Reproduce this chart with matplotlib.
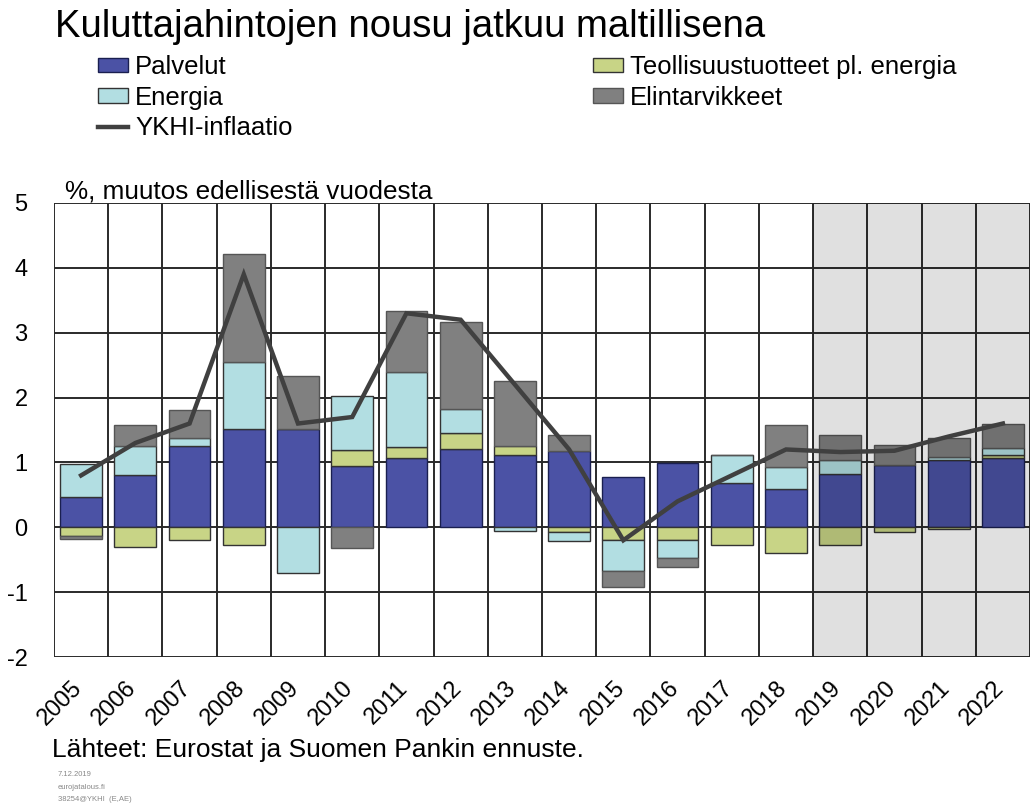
#!/usr/bin/env python3

import matplotlib
matplotlib.use('Agg')
import matplotlib.pyplot as plt
import matplotlib.transforms as mtransforms
import numpy as np

#-----------
# DATA
#-----------
years = [str(y) for y in range(2005, 2023)]
palvelut = [0.47, 0.81, 1.25, 1.52, 1.52, 0.94, 1.07, 1.20, 1.12, 1.17, 0.77, 0.99, 0.69, 0.59, 0.82, 0.96, 1.03, 1.07]
teollisuus = [-0.13, -0.30, -0.19, -0.28, 0.0, 0.25, 0.17, 0.26, 0.14, -0.07, -0.20, -0.20, -0.28, -0.39, -0.28, -0.07, -0.02, 0.05]
energia = [0.51, 0.45, 0.13, 1.03, -0.71, 0.83, 1.15, 0.36, -0.05, -0.14, -0.47, -0.28, 0.42, 0.34, 0.21, 0.0, 0.05, 0.10]
elintarvikkeet = [-0.05, 0.32, 0.43, 1.66, 0.82, -0.32, 0.94, 1.34, 1.00, 0.26, -0.25, -0.14, 0.0, 0.64, 0.39, 0.31, 0.30, 0.38]
ykhi = [0.8, 1.3, 1.6, 3.9, 1.6, 1.7, 3.3, 3.2, 2.2, 1.2, -0.2, 0.4, 0.8, 1.2, 1.16, 1.18, 1.4, 1.6]
forecast_start = '2019'

#-----------
# STYLE
#-----------
plt.rcParams['font.family'] = ['Liberation Sans', 'DejaVu Sans']
plt.rcParams['axes.unicode_minus'] = False

series = [
  ('Palvelut', palvelut, '#4b52a5', '#1a1f50'),
  ('Teollisuustuotteet pl. energia', teollisuus, '#c8d486', '#333333'),
  ('Energia', energia, '#b2dee2', '#333333'),
  ('Elintarvikkeet', elintarvikkeet, '#808080', '#555555'),
]

#-----------
# PLOT
#-----------
fig = plt.figure(figsize=(10.3, 8.08), dpi=100)
ax = fig.add_axes([54 / 1030, 1 - 657 / 808, 1 - 54 / 1030, (657 - 203) / 808])

x = np.arange(len(years))
pos_bottom = np.zeros(len(years))
neg_bottom = np.zeros(len(years))
handles = {}
for name, vals, color, edge in series:
  vals = np.array(vals)
  bottom = np.where(vals >= 0, pos_bottom, neg_bottom)
  bars = ax.bar(x, vals, width=0.77, bottom=bottom, color=color, edgecolor=edge, linewidth=1, zorder=2)
  handles[name] = bars
  pos_bottom += np.where(vals >= 0, vals, 0)
  neg_bottom += np.where(vals < 0, vals, 0)

line, = ax.plot(x, ykhi, color='#404040', linewidth=3.2, zorder=4, solid_joinstyle='miter')

# forecast shading over the bars
fs = years.index(forecast_start) - 0.5
ax.axvspan(fs, len(years) - 0.5, color='black', alpha=0.12, linewidth=0, zorder=3)

ax.set_xlim(-0.5, len(years) - 0.5)
ax.set_ylim(-2, 5)
ax.set_yticks(range(-2, 6))
ax.set_xticks(x)
ax.set_xticklabels(years, rotation=45, ha='right', va='center', rotation_mode='anchor', fontsize=17)
ax.tick_params(axis='y', length=0, pad=19, labelsize=17)
ax.tick_params(axis='x', length=0, pad=20)

# grid: horizontal at each integer, vertical between categories
for yv in range(-2, 6):
  ax.axhline(yv, color='#2a2a2a', linewidth=1.4, zorder=1)
for xv in np.arange(-0.5, len(years), 1.0):
  ax.axvline(xv, color='#2a2a2a', linewidth=1.4, zorder=1)
for s in ax.spines.values():
  s.set_visible(False)

# nudge x labels so they end just right of the bar centre
offset = mtransforms.ScaledTranslation(-2 / 100, 0, fig.dpi_scale_trans)
for lbl in ax.get_xticklabels():
  lbl.set_transform(lbl.get_transform() + offset)

#-----------
# TEXTS
#-----------
fig.text(55 / 1030, 1 - 9 / 808, 'Kuluttajahintojen nousu jatkuu maltillisena', fontsize=27.5, va='top', ha='left')
fig.text(65 / 1030, 1 - 198 / 808, '%, muutos edellisestä vuodesta', fontsize=18.8, va='baseline', ha='left')
fig.text(52 / 1030, 1 - 757 / 808, 'Lähteet: Eurostat ja Suomen Pankin ennuste.', fontsize=19, va='baseline', ha='left')
fig.text(58 / 1030, 1 - 776 / 808, '7.12.2019', fontsize=5.5, color='#888888', va='baseline')
fig.text(58 / 1030, 1 - 789 / 808, 'eurojatalous.fi', fontsize=5.5, color='#888888', va='baseline')
fig.text(58 / 1030, 1 - 801 / 808, '38254@YKHI  (E,AE)', fontsize=5.5, color='#888888', va='baseline')

# legend filled column-wise: left column then right column
order = ['Palvelut', 'Energia', 'YKHI-inflaatio', 'Teollisuustuotteet pl. energia', 'Elintarvikkeet']
handles['YKHI-inflaatio'] = line
fig.legend([handles[n] for n in order], order, loc='upper left',
  bbox_to_anchor=(98 / 1030, 1 - 55 / 808), ncol=2, frameon=False, fontsize=18.5,
  handlelength=1.17, handleheight=0.5, handletextpad=0.27, columnspacing=11.7, labelspacing=0.26,
  borderpad=0, borderaxespad=0)

fig.savefig('out.png', dpi=100)
